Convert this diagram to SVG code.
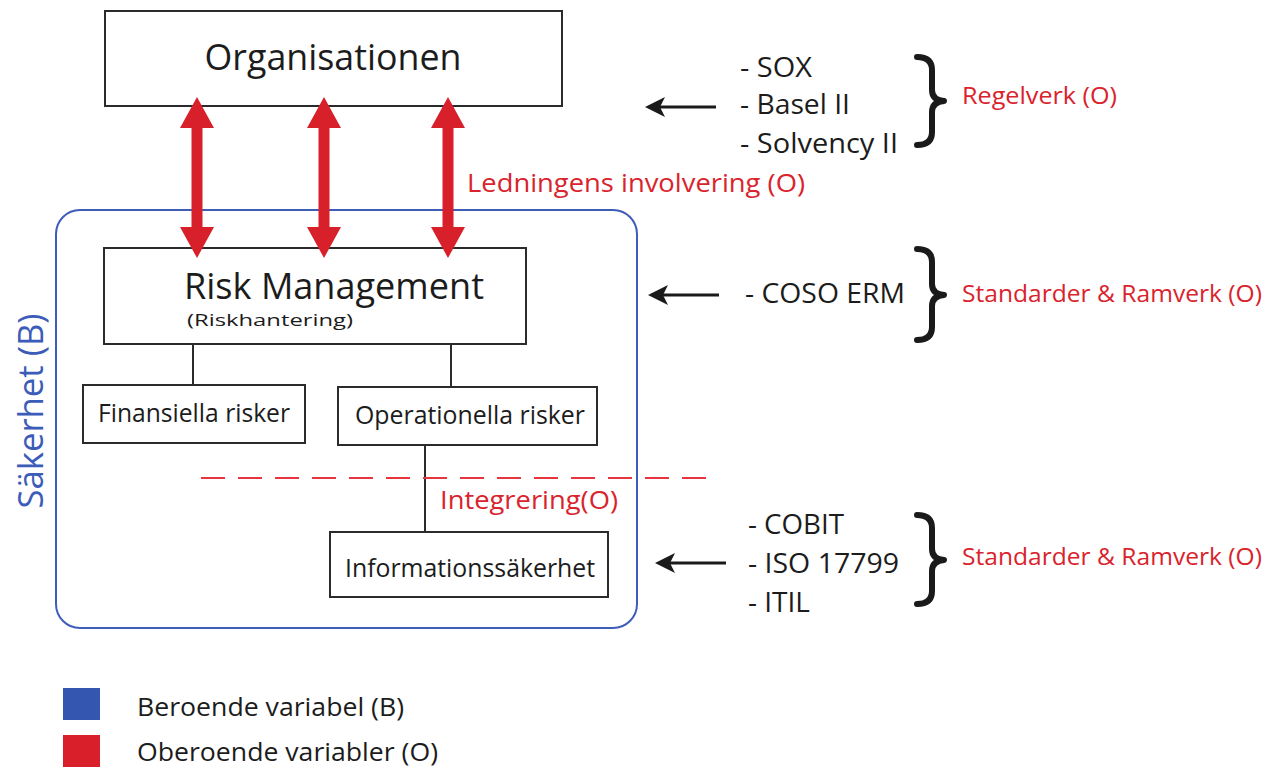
<svg xmlns="http://www.w3.org/2000/svg" width="1275" height="767" viewBox="0 0 1275 767">
<style>
text{font-family:"Open Sans","Liberation Sans",sans-serif;}
.k{fill:#1c1c1c}
.r{fill:#d9232d}
.b{fill:#3b5cb8}
.box{fill:#fff;stroke:#2b2b2b;stroke-width:2}
.ln{stroke:#2b2b2b;stroke-width:2;fill:none}
.br{fill:none;stroke:#1a1a1a;stroke-width:6;stroke-linecap:round;stroke-linejoin:round}
.ra{fill:#d7202a}
.la{stroke:#1a1a1a;stroke-width:3}
.lh{fill:#1a1a1a}
</style>
<defs>
<path id="dbl" d="M-17,31 L0,0 L17,31 L5.5,31 L5.5,130 L17,130 L0,161 L-17,130 L-5.5,130 L-5.5,31 Z"/>
<path id="lhead" d="M0,0 L20,-10 L15,0 L20,10 Z"/>
</defs>
<rect width="1275" height="767" fill="#fff"/>

<g id="sakerhet">
<rect x="56" y="210" width="581" height="418" rx="24" ry="24" fill="none" stroke="#3d5db8" stroke-width="2"/>
<text class="b" transform="translate(43,411) rotate(-90)" text-anchor="middle" font-size="34" textLength="195" lengthAdjust="spacingAndGlyphs">Säkerhet (B)</text>
</g>

<g id="organisationen">
<rect class="box" x="105" y="11" width="457" height="95"/>
<text class="k" x="333" y="70" text-anchor="middle" font-size="37" textLength="257" lengthAdjust="spacingAndGlyphs">Organisationen</text>
</g>

<g id="riskmanagement">
<rect class="box" x="104" y="248" width="422" height="96"/>
<text class="k" x="184" y="299" font-size="36" textLength="300" lengthAdjust="spacingAndGlyphs">Risk Management</text>
<text class="k" x="187" y="326" font-size="17" textLength="166" lengthAdjust="spacingAndGlyphs">(Riskhantering)</text>
</g>

<g id="connectors">
<use href="#dbl" class="ra" transform="translate(197,97)"/>
<use href="#dbl" class="ra" transform="translate(324,97)"/>
<use href="#dbl" class="ra" transform="translate(448,97)"/>
<line class="ln" x1="193" y1="344" x2="193" y2="385"/>
<line class="ln" x1="451" y1="344" x2="451" y2="387"/>
<line class="ln" x1="425" y1="445" x2="425" y2="532"/>
<line x1="201" y1="478" x2="712" y2="478" stroke="#e8343c" stroke-width="2" stroke-dasharray="24,13"/>
<line class="la" x1="716" y1="107" x2="660" y2="107"/>
<use href="#lhead" class="lh" transform="translate(645,107)"/>
<line class="la" x1="719" y1="295" x2="663" y2="295"/>
<use href="#lhead" class="lh" transform="translate(648,295)"/>
<line class="la" x1="726" y1="563" x2="670" y2="563"/>
<use href="#lhead" class="lh" transform="translate(655,563)"/>
</g>

<g id="finansiella">
<rect class="box" x="83" y="385" width="222" height="58"/>
<text class="k" x="98" y="422" font-size="25" textLength="192" lengthAdjust="spacingAndGlyphs">Finansiella risker</text>
</g>

<g id="operationella">
<rect class="box" x="338" y="387" width="259" height="58"/>
<text class="k" x="355" y="424" font-size="25" textLength="230" lengthAdjust="spacingAndGlyphs">Operationella risker</text>
</g>

<g id="informationssakerhet">
<rect class="box" x="330" y="532" width="278" height="65"/>
<text class="k" x="345" y="577" font-size="25" textLength="250" lengthAdjust="spacingAndGlyphs">Informationssäkerhet</text>
</g>

<g id="labels">
<text class="r" x="467" y="192" font-size="25" textLength="338" lengthAdjust="spacingAndGlyphs">Ledningens involvering (O)</text>
<text class="r" x="440" y="509" font-size="25" textLength="178" lengthAdjust="spacingAndGlyphs">Integrering(O)</text>
</g>

<g id="regelverk">
<text class="k" x="740" y="77" font-size="28" textLength="72" lengthAdjust="spacingAndGlyphs">- SOX</text>
<text class="k" x="740" y="114" font-size="28" textLength="110" lengthAdjust="spacingAndGlyphs">- Basel II</text>
<text class="k" x="740" y="153" font-size="28" textLength="158" lengthAdjust="spacingAndGlyphs">- Solvency II</text>
<path class="br" d="M917,57 Q932,57 932,70 L932,90 Q932,100 944,101 Q932,102 932,112 L932,132 Q932,145 917,145"/>
<text class="r" x="962" y="104" font-size="24" textLength="155" lengthAdjust="spacingAndGlyphs">Regelverk (O)</text>
</g>

<g id="coso">
<text class="k" x="745" y="303" font-size="28" textLength="160" lengthAdjust="spacingAndGlyphs">- COSO ERM</text>
<path class="br" d="M917,249 Q932,249 932,262 L932,284 Q932,294 944,295 Q932,296 932,306 L932,327 Q932,340 917,340"/>
<text class="r" x="962" y="302" font-size="24" textLength="300" lengthAdjust="spacingAndGlyphs">Standarder &amp; Ramverk (O)</text>
</g>

<g id="cobit">
<text class="k" x="748" y="534" font-size="28" textLength="96" lengthAdjust="spacingAndGlyphs">- COBIT</text>
<text class="k" x="748" y="573" font-size="28" textLength="151" lengthAdjust="spacingAndGlyphs">- ISO 17799</text>
<text class="k" x="748" y="612" font-size="28" textLength="62" lengthAdjust="spacingAndGlyphs">- ITIL</text>
<path class="br" d="M917,515 Q932,515 932,528 L932,549 Q932,559 944,560 Q932,561 932,571 L932,591 Q932,604 917,604"/>
<text class="r" x="962" y="565" font-size="24" textLength="300" lengthAdjust="spacingAndGlyphs">Standarder &amp; Ramverk (O)</text>
</g>

<g id="legend">
<rect x="63" y="688" width="37" height="32" fill="#3556b0"/>
<text class="k" x="137" y="716" font-size="26" textLength="267" lengthAdjust="spacingAndGlyphs">Beroende variabel (B)</text>
<rect x="63" y="735" width="37" height="32" fill="#d9202a"/>
<text class="k" x="137" y="761" font-size="26" textLength="301" lengthAdjust="spacingAndGlyphs">Oberoende variabler (O)</text>
</g>
</svg>
